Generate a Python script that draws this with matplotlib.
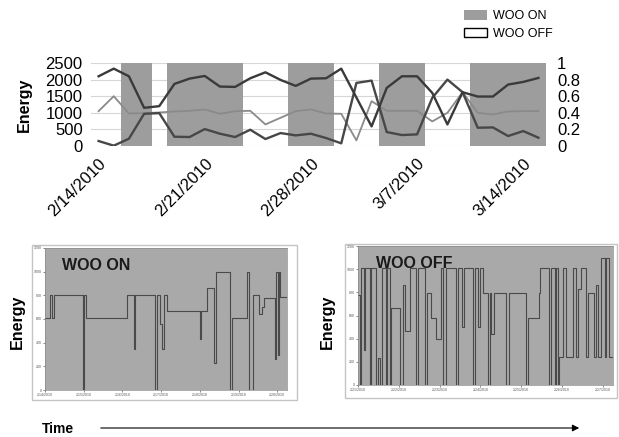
import numpy as np
import matplotlib
matplotlib.use("Agg")
import matplotlib.pyplot as plt
import matplotlib.patches as mpatches

plt.rcParams['font.family'] = ['Liberation Sans', 'DejaVu Sans']

# ---- top chart: daily energy, 2/14/2010 .. 3/15/2010 ----
day = np.arange(30)
tick_days = [0, 7, 14, 21, 28]
tick_labels = ['2/14/2010', '2/21/2010', '2/28/2010', '3/7/2010', '3/14/2010']

upper = [2100, 2330, 2100, 1150, 1200, 1870, 2030, 2110, 1790, 1780,
         2040, 2220, 1990, 1810, 2030, 2040, 2330, 1460, 590, 1750,
         2100, 2100, 1600, 650, 1620, 1490, 1490, 1850, 1930, 2050]
middle = [1050, 1500, 980, 990, 1010, 1040, 1060, 1100, 970, 1050,
          1060, 650, 850, 1050, 1100, 980, 970, 170, 1350, 1060,
          1060, 1060, 740, 1000, 1620, 1000, 950, 1040, 1050, 1050]
lower = [150, 10, 220, 970, 990, 280, 270, 510, 370, 270,
         490, 210, 390, 320, 370, 240, 80, 1900, 1970, 420,
         330, 350, 1450, 2000, 1620, 550, 560, 300, 450, 250]

# WOO ON periods (in days)
on_start = [1.5, 4.5, 12.5, 18.5, 24.5]
on_end = [3.5, 9.5, 15.5, 21.5, 29.5]

# ---- bottom panels: raw traces ----
on_t = [0, 2.1, 2.8, 3.9, 15.6, 16.3, 17.0, 33.8, 36.6, 37.2, 45.5, 46.2,
        47.6, 48.3, 49.0, 50.3, 64.1, 64.6, 66.9, 69.7, 70.8, 76.6, 77.2,
        83.4, 84.1, 85.9, 88.3, 89.6, 90.3, 95.2, 95.6, 96.1, 96.7, 97.2, 100]
on_e = [610, 800, 610, 800, 0, 800, 610, 800, 350, 800, 0, 800,
        560, 350, 800, 665, 430, 665, 860, 230, 1000, 0, 610,
        1000, 0, 800, 640, 700, 780, 260, 1000, 300, 1000, 790, 790]

off_t = [0, 0.7, 1.3, 2.4, 2.7, 4.6, 5.2, 7.2, 7.8, 8.8, 9.5, 10.8, 11.4,
         12.4, 13.1, 16.6, 17.6, 18.3, 20.3, 22.6, 23.5, 26.1, 27.1, 28.8,
         30.7, 32.7, 33.3, 34.6, 38.6, 39.2, 40.9, 41.4, 45.1, 45.8, 47.1,
         47.7, 49.0, 51.0, 51.6, 52.3, 53.2, 58.2, 59.2, 66.0, 66.7, 71.0,
         71.5, 74.9, 75.8, 77.1, 77.8, 78.3, 78.8, 80.4, 81.7, 84.3, 85.4,
         86.4, 87.6, 89.5, 90.2, 92.4, 93.2, 94.2, 95.4, 96.7, 97.4, 98.4, 100]
off_e = [780, 0, 1010, 300, 1010, 0, 1010, 0, 230, 0, 1010, 0, 1010,
         0, 665, 0, 860, 463, 1010, 0, 1010, 0, 795, 578,
         400, 1010, 0, 1010, 0, 1010, 500, 1010, 0, 1010, 500,
         1010, 795, 0, 795, 440, 795, 0, 795, 0, 578, 795,
         1010, 0, 1010, 0, 1010, 0, 240, 1010, 240, 1010, 240,
         830, 1010, 240, 795, 240, 860, 240, 1100, 240, 1100, 240, 240]

on_xticks = [0, 16, 32, 48, 64, 80, 96]
on_xlabels = ['2/14/2010', '2/15/2010', '2/16/2010', '2/17/2010',
              '2/18/2010', '2/19/2010', '2/20/2010']
off_xticks = [0, 16, 32, 48, 64, 80, 96]
off_xlabels = ['2/21/2010', '2/22/2010', '2/23/2010', '2/24/2010',
               '2/25/2010', '2/26/2010', '2/27/2010']
e_ticks = [0, 200, 400, 600, 800, 1000, 1200]

W, H = 619, 437
fig = plt.figure(figsize=(W / 100, H / 100), dpi=100)


def box(x0, y0, x1, y1):
    # pixel box (top-left origin) -> figure fraction rect
    return [x0 / W, 1 - y1 / H, (x1 - x0) / W, (y1 - y0) / H]


# top chart
ax = fig.add_axes(box(91, 63, 546, 146))
for s, e in zip(on_start, on_end):
    ax.axvspan(s, e, color='#9d9d9d', lw=0, zorder=1)
ax.plot(day, middle, color='#8a8a8a', lw=1.3, zorder=3)
ax.plot(day, lower, color='#474747', lw=1.7, zorder=3)
ax.plot(day, upper, color='#3a3a3a', lw=1.7, zorder=4)
ax.set_xlim(-0.5, 29.5)
ax.set_ylim(0, 2500)
ax.set_yticks([0, 500, 1000, 1500, 2000, 2500])
ax.yaxis.grid(True, color='#d6d6d6', lw=0.8, zorder=0)
ax.set_axisbelow(True)
ax.set_xticks([])
ax.tick_params(axis='y', length=0, labelsize=12, pad=6)
for sp in ax.spines.values():
    sp.set_visible(False)
ax.set_ylabel('Energy', fontsize=11.5, fontweight='bold', labelpad=10)
for d, lab in zip(tick_days, tick_labels):
    ax.annotate(lab, xy=(d, 0), xycoords=('data', 'axes fraction'),
                xytext=(0, -7), textcoords='offset points', rotation=45,
                ha='right', va='top', rotation_mode='anchor', fontsize=12,
                annotation_clip=False)

ax2 = ax.twinx()
ax2.set_ylim(0, 1)
ax2.set_yticks([0, 0.2, 0.4, 0.6, 0.8, 1])
ax2.set_yticklabels(['0', '0.2', '0.4', '0.6', '0.8', '1'])
ax2.tick_params(axis='y', length=0, labelsize=12, pad=8)
for sp in ax2.spines.values():
    sp.set_visible(False)

fig.legend(handles=[mpatches.Patch(facecolor='#9d9d9d', edgecolor='none', label='WOO ON'),
                    mpatches.Patch(facecolor='white', edgecolor='black', lw=1, label='WOO OFF')],
           loc='upper left', bbox_to_anchor=(464 / W, 1 - 10 / H), frameon=False,
           fontsize=9, handlelength=1.8, handleheight=0.8, handletextpad=0.5,
           labelspacing=0.45, borderpad=0, borderaxespad=0)

# bottom panels
panels = [
    (box(32, 245, 297, 400), box(45, 248, 287, 390), on_t, on_e, on_xticks, on_xlabels, 'WOO ON', 17),
    (box(345, 244, 617, 398), box(358, 246, 613, 385), off_t, off_e, off_xticks, off_xlabels, 'WOO OFF', 327),
]
for frame, rect, t, e, xt, xl, name, ylab_x in panels:
    fig.add_artist(mpatches.Rectangle((frame[0], frame[1]), frame[2], frame[3],
                                      transform=fig.transFigure, facecolor='white',
                                      edgecolor='#c4c4c4', lw=1, zorder=-1))
    bx = fig.add_axes(rect)
    bx.set_facecolor('#a9a9a9')
    bx.step(t, e, where='post', color='#4a4a4a', lw=0.8)
    bx.set_xlim(0, 100)
    bx.set_ylim(0, 1200)
    bx.set_yticks(e_ticks)
    bx.set_xticks(xt)
    bx.set_xticklabels(xl)
    bx.tick_params(labelsize=2.5, length=1.5, width=0.5, pad=1, colors='#555555')
    for sp in bx.spines.values():
        sp.set_color('#8a8a8a')
        sp.set_linewidth(0.5)
    bx.text(0.07, 0.93, name, transform=bx.transAxes, fontsize=11.5,
            fontweight='bold', color='#1a1a1a', va='top', ha='left', zorder=5)
    fig.text(ylab_x / W, 1 - 322 / H, 'Energy', rotation=90, fontsize=11.5,
             fontweight='bold', ha='center', va='center')

fig.text(42 / W, 1 - 429 / H, 'Time', fontsize=10, fontweight='bold',
         ha='left', va='center')
fig.add_artist(mpatches.FancyArrowPatch((98 / W, 1 - 428 / H), (582 / W, 1 - 428 / H),
                                        transform=fig.transFigure, arrowstyle='-|>',
                                        mutation_scale=10, lw=0.8, color='black'))

fig.savefig('out.png', dpi=100)
